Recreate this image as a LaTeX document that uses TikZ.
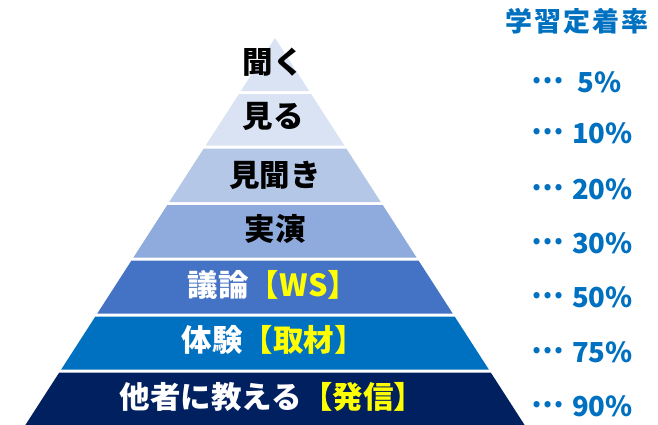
\documentclass[tikz,border=0pt]{standalone}
\usepackage{fontspec}
\usepackage{xcolor}
\newfontfamily\jpfont{Noto Sans CJK JP}
\newfontfamily\jpwide[LetterSpace=8]{Noto Sans CJK JP}
\definecolor{lvlA}{HTML}{DAE3F3}
\definecolor{lvlB}{HTML}{B4C7E7}
\definecolor{lvlC}{HTML}{8FAADC}
\definecolor{lvlD}{HTML}{4472C4}
\definecolor{lvlE}{HTML}{0070C0}
\definecolor{lvlF}{HTML}{002060}
\definecolor{rateblue}{HTML}{0070C0}
\definecolor{hiyellow}{HTML}{FFFF00}
\tikzset{
    lvl/.style={font=\jpfont\bfseries\fontsize{30.5}{32}\selectfont, inner sep=0pt},
    rate/.style={font=\jpfont\bfseries\fontsize{27.5}{30}\selectfont, text=rateblue, inner sep=0pt, anchor=west},
}
\newcommand{\middots}{\raisebox{0.3em}{\fontsize{29}{30}\selectfont…}}

\begin{document}
\begin{tikzpicture}[x=1pt,y=-1pt]
    \useasboundingbox (0,0) rectangle (658,424);
    % pyramid bands: top / bottom / colour
    \foreach \t/\b/\c in {38/91/lvlA, 94/145.5/lvlA, 148.5/202/lvlB, 205/257.5/lvlC,
                          260.5/313.5/lvlD, 316.5/369.5/lvlE, 372.5/425/lvlF} {
        \fill[\c] ({275-0.645*(\t-38)},\t) -- ({275+0.645*(\t-38)},\t)
            -- ({275+0.645*(\b-38)},\b) -- ({275-0.645*(\b-38)},\b) -- cycle;
    }
    \node[lvl] (kiku) at (273,62) {聞く};
    \node[lvl] (miru) at (273,116) {見る};
    \node[lvl] (mikiki) at (275,175) {見聞き};
    \node[lvl] (jitsuen) at (275,229) {実演};
    \node[lvl,text=white] (giron) at (273,285) {議論\textcolor{hiyellow}{【WS】}};
    \node[lvl,text=white] (taiken) at (273,340) {体験\textcolor{hiyellow}{【取材】}};
    \node[lvl,text=white] (oshieru) at (272,397) {他者に教える\textcolor{hiyellow}{【発信】}};
    % rates
    \node[font=\jpwide\bfseries\fontsize{27}{30}\selectfont, text=rateblue, inner sep=0pt] (ratehead) at (577,21) {学習定着率};
    \foreach \y/\v [count=\i] in {82/\hspace{0.2em}5, 133/10, 189/20, 243/30, 297/50, 352/75, 406/90}
        \node[rate] (rate\i) at (531,\y) {\middots\hspace{0.3em}\v\%};
\end{tikzpicture}
\end{document}
